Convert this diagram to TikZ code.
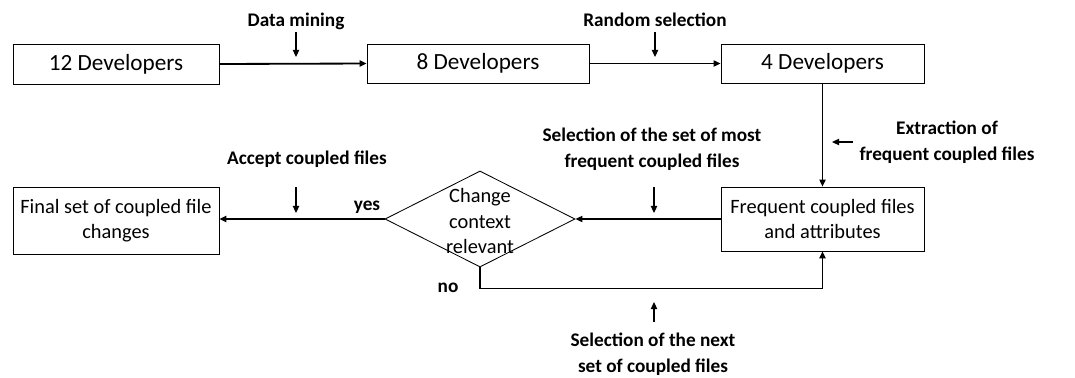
\documentclass[tikz,border=0pt]{standalone}
\usepackage{fontspec}
\setmainfont{Carlito}
\usetikzlibrary{arrows.meta, positioning, shapes.geometric}

\begin{document}
\begin{tikzpicture}[x=0.025cm, y=-0.025cm,
  box/.style={draw, line width=0.6pt, rectangle, inner sep=0pt, align=center, font=\fontsize{14.5}{17.8}\selectfont},
  bigbox/.style={box, font=\fontsize{16.5}{19}\selectfont},
  lbl/.style={align=center, inner sep=0pt, font=\bfseries\fontsize{13.7}{18.5}\selectfont},
  flow/.style={-{Triangle[length=5pt,width=4.5pt]}},
  hint/.style={-{Triangle[length=5pt,width=4.5pt]}, line width=0.8pt}]
\useasboundingbox (0,0) rectangle (1075,377);

% top row
\node[bigbox, minimum width=5.15cm, minimum height=1cm] (dev12) at (116,64) {12 Developers};
\node[bigbox, minimum width=5.55cm, minimum height=0.975cm] (dev8) at (478,63.5) {8 Developers};
\node[bigbox, minimum width=5.075cm, minimum height=0.975cm] (dev4) at (822.5,63.5) {4 Developers};

% bottom row
\node[box, minimum width=5.075cm, minimum height=1.6cm] (freq) at (822.5,219) {Frequent coupled files\\and attributes};
\node[box, minimum width=5.15cm, minimum height=1.675cm] (final) at (116,220.5) {Final set of coupled file\\changes};
\node[draw, line width=0.6pt, diamond, minimum width=4.75cm, minimum height=2.4cm, inner sep=0pt] (decide) at (480,219) {};
\node[align=center, inner sep=0pt, font=\fontsize{14.5}{17.8}\selectfont] (decidetxt) at (480,221) {Change\\context\\relevant};

% step labels
\node[lbl] (mining) at (296,21) {Data mining};
\node[lbl] (random) at (655,20) {Random selection};
\node[lbl] (extract) at (947,142.5) {Extraction of\\frequent coupled files};
\node[lbl] (most) at (652,149) {Selection of the set of most\\frequent coupled files};
\node[lbl] (accept) at (307,159) {Accept coupled files};
\node[lbl] (next) at (653,354.5) {Selection of the next\\set of coupled files};
\node[lbl] (yes) at (367,207) {yes};
\node[lbl] (no) at (448,288) {no};

% connectors
\draw[flow, line width=1.3pt] (dev12.east) -- (dev8.west);
\draw[flow, line width=0.8pt] (dev8.east) -- (dev4.west);
\draw[flow, line width=0.8pt] (dev4.south) -- (freq.north);
\draw[flow, line width=0.8pt] (freq.west) -- (decide.east);
\draw[flow, line width=1.3pt] (decide.west) -- (decide.west -| final.east);
\draw[flow, line width=1.3pt] (decide.south) -- ++(0,21) -| (freq.south);

% small arrows at the labels
\coordinate (m1) at (296,32);  \coordinate (m2) at (296,57);
\coordinate (r1) at (655,32);  \coordinate (r2) at (655,57);
\coordinate (e1) at (853,142); \coordinate (e2) at (832,142);
\coordinate (s1) at (654,187); \coordinate (s2) at (654,213);
\coordinate (a1) at (296,187); \coordinate (a2) at (296,213);
\coordinate (n1) at (654,322); \coordinate (n2) at (654,302);
\draw[hint] (m1) -- (m2);
\draw[hint] (r1) -- (r2);
\draw[hint] (e1) -- (e2);
\draw[hint] (s1) -- (s2);
\draw[hint] (a1) -- (a2);
\draw[hint] (n1) -- (n2);

\end{tikzpicture}
\end{document}
